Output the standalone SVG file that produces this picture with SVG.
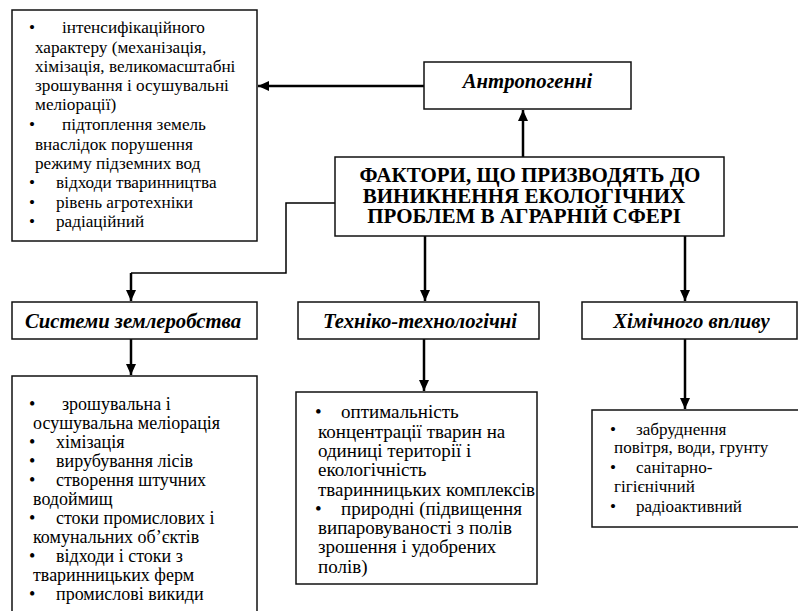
<svg xmlns="http://www.w3.org/2000/svg" width="798" height="611" viewBox="0 0 798 611">
<style>
text{font-family:"Liberation Serif","Times New Roman",serif;fill:#000}
.box{fill:#fff;stroke:#111;stroke-width:1.5}
.h{font-size:20.7px;font-weight:bold;font-style:italic;text-anchor:middle}
.m{font-size:21px;font-weight:bold;text-anchor:middle}
.a{font-size:17.2px}
.s{font-size:18px}
.k{font-size:19px}
.x{font-size:17.1px}
.c{fill:none;stroke:#000;stroke-width:2.5}
.thin{fill:none;stroke:#000;stroke-width:1.5}
</style>
<defs>
<marker id="ah" markerUnits="userSpaceOnUse" markerWidth="12" markerHeight="12" viewBox="0 0 12 12" refX="11" refY="6" orient="auto">
<path d="M0,1 L11,6 L0,11 Z" fill="#000"/>
</marker>
</defs>
<rect width="798" height="611" fill="#fff"/>
<g id="connectors">
<line class="c" x1="424" y1="86" x2="258" y2="86" marker-end="url(#ah)"/>
<line class="c" x1="523" y1="157" x2="523" y2="110" marker-end="url(#ah)"/>
<polyline class="thin" points="335,203 286,203 286,273 131,273"/>
<line class="c" x1="131" y1="273" x2="131" y2="301" marker-end="url(#ah)"/>
<line class="c" x1="425" y1="236" x2="425" y2="301" marker-end="url(#ah)"/>
<line class="c" x1="685" y1="236" x2="685" y2="301" marker-end="url(#ah)"/>
<line class="c" x1="131" y1="339" x2="131" y2="375" marker-end="url(#ah)"/>
<line class="c" x1="424" y1="339" x2="424" y2="391" marker-end="url(#ah)"/>
<line class="c" x1="685" y1="339" x2="685" y2="409" marker-end="url(#ah)"/>
</g>
<g id="anthro-list">
<rect class="box" x="12" y="10" width="245" height="231"/>
<text class="a" x="29" y="33">•</text><text class="a" x="62" y="33">інтенсифікаційного</text>
<text class="a" x="35" y="53">характеру (механізація,</text>
<text class="a" x="35" y="72">хімізація, великомасштабні</text>
<text class="a" x="35" y="91">зрошування і осушувальні</text>
<text class="a" x="35" y="110">меліорації)</text>
<text class="a" x="29" y="130">•</text><text class="a" x="62" y="130">підтоплення земель</text>
<text class="a" x="35" y="150">внаслідок порушення</text>
<text class="a" x="35" y="169">режиму підземних вод</text>
<text class="a" x="29" y="188">•</text><text class="a" x="56" y="188">відходи тваринництва</text>
<text class="a" x="29" y="208">•</text><text class="a" x="56" y="208">рівень агротехніки</text>
<text class="a" x="29" y="227">•</text><text class="a" x="56" y="227">радіаційний</text>
</g>
<g id="anthro">
<rect class="box" x="424" y="62" width="207" height="47"/>
<text class="h" x="527.5" y="88">Антропогенні</text>
</g>
<g id="main">
<rect class="box" x="335" y="157" width="389" height="79"/>
<text class="m" x="530" y="182">ФАКТОРИ, ЩО ПРИЗВОДЯТЬ ДО</text>
<text class="m" x="524" y="202.5">ВИНИКНЕННЯ ЕКОЛОГІЧНИХ</text>
<text class="m" x="524" y="223">ПРОБЛЕМ В АГРАРНІЙ СФЕРІ</text>
</g>
<g id="systems">
<rect class="box" x="12" y="302" width="245" height="37"/>
<text class="h" x="133" y="328">Системи землеробства</text>
</g>
<g id="tech">
<rect class="box" x="298" y="302" width="241" height="37"/>
<text class="h" x="420" y="328">Техніко-технологічні</text>
</g>
<g id="chem">
<rect class="box" x="582" y="302" width="215" height="37"/>
<text class="h" x="691.5" y="328">Хімічного впливу</text>
</g>
<g id="systems-list">
<rect class="box" x="12" y="376" width="245" height="240"/>
<text class="s" x="29" y="410">•</text><text class="s" x="62" y="410">зрошувальна і</text>
<text class="s" x="33" y="429">осушувальна меліорація</text>
<text class="s" x="29" y="448">•</text><text class="s" x="56" y="448">хімізація</text>
<text class="s" x="29" y="467">•</text><text class="s" x="56" y="467">вирубування лісів</text>
<text class="s" x="29" y="486">•</text><text class="s" x="56" y="486">створення штучних</text>
<text class="s" x="33" y="505">водоймищ</text>
<text class="s" x="29" y="524">•</text><text class="s" x="56" y="524">стоки промислових і</text>
<text class="s" x="33" y="543">комунальних об’єктів</text>
<text class="s" x="29" y="562">•</text><text class="s" x="56" y="562">відходи і стоки з</text>
<text class="s" x="33" y="581">тваринницьких ферм</text>
<text class="s" x="29" y="600">•</text><text class="s" x="56" y="600">промислові викиди</text>
</g>
<g id="tech-list">
<rect class="box" x="296" y="392" width="241" height="192"/>
<text class="k" x="315" y="418">•</text><text class="k" x="341" y="418">оптимальність</text>
<text class="k" x="318" y="438">концентрації тварин на</text>
<text class="k" x="318" y="457">одиниці території і</text>
<text class="k" x="318" y="476">екологічність</text>
<text class="k" x="318" y="496">тваринницьких комплексів</text>
<text class="k" x="315" y="515">•</text><text class="k" x="341" y="515">природні (підвищення</text>
<text class="k" x="318" y="534">випаровуваності з полів</text>
<text class="k" x="318" y="553">зрошення і удобрених</text>
<text class="k" x="318" y="573">полів)</text>
</g>
<g id="chem-list">
<rect class="box" x="592" y="410" width="210" height="117"/>
<text class="x" x="610" y="435">•</text><text class="x" x="636" y="435">забруднення</text>
<text class="x" x="614" y="453">повітря, води, грунту</text>
<text class="x" x="610" y="473">•</text><text class="x" x="636" y="473">санітарно-</text>
<text class="x" x="614" y="492">гігієнічний</text>
<text class="x" x="610" y="512">•</text><text class="x" x="636" y="512">радіоактивний</text>
</g>
</svg>
